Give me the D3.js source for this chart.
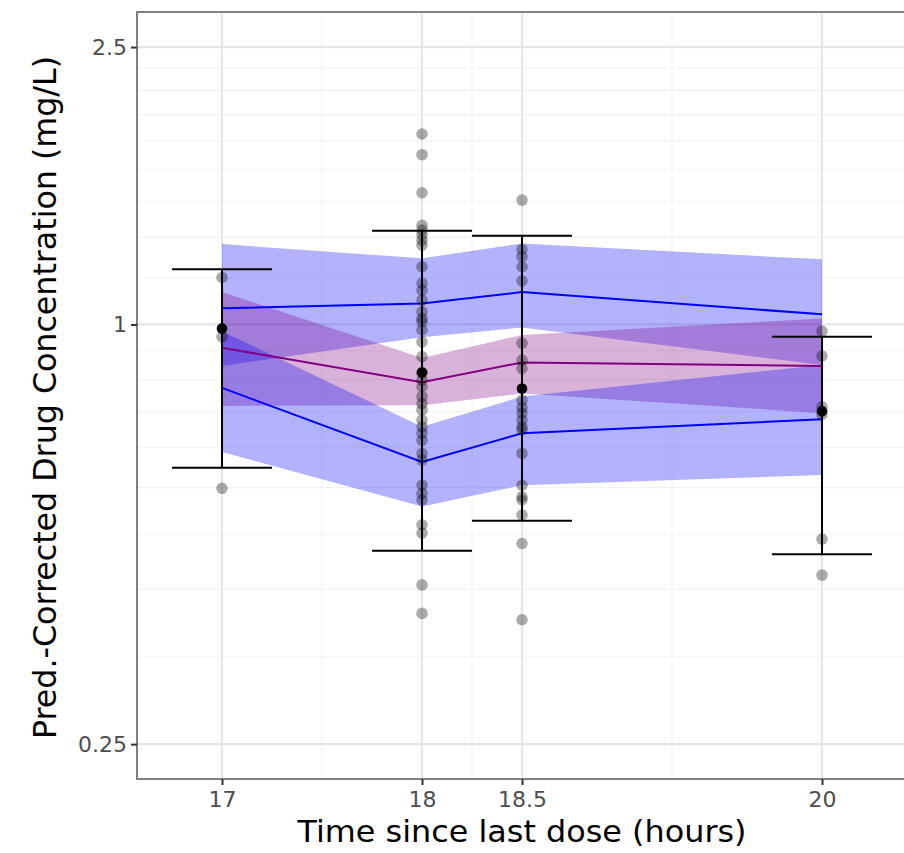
<!DOCTYPE html>
<html>
<head>
<meta charset="utf-8">
<script src="https://cdn.jsdelivr.net/npm/d3@7"></script>
<style>
  html, body { margin: 0; padding: 0; background: #ffffff; }
  svg { display: block; }
  text { font-family: "DejaVu Sans", sans-serif; }
</style>
</head>
<body>
<svg id="chart" width="904" height="853"></svg>
<script>
// ---------------- data ----------------
const timeBins = [17, 18, 18.5, 20];
const xTickValues = [17, 18, 18.5, 20];
const xTickLabels = ["17", "18", "18.5", "20"];
const xMinorBreaks = [17.5, 18.25, 19.25];
const yTickValues = [0.25, 1, 2.5];
const yTickLabels = ["0.25", "1", "2.5"];
const yMinorBreaks = [0.3333, 0.4167, 0.5, 0.5833, 0.6667, 0.75, 0.8333, 0.9167,
                      1.1667, 1.3333, 1.5, 1.6667, 1.8333, 2, 2.1667, 2.3333];

// simulated prediction intervals (confidence bands around 5th, 50th, 95th percentiles)
const p95BandLow  = [0.872, 0.959, 0.990, 0.875];
const p95BandHigh = [1.304, 1.244, 1.307, 1.240];
const p50BandLow  = [0.764, 0.766, 0.796, 0.746];
const p50BandHigh = [1.113, 0.895, 0.966, 1.020];
const p05BandLow  = [0.656, 0.548, 0.588, 0.608];
const p05BandHigh = [0.978, 0.713, 0.788, 0.875];

// simulated percentile lines
const p95Line = [1.055, 1.072, 1.113, 1.034];
const p50Line = [0.926, 0.826, 0.882, 0.872];
const p05Line = [0.811, 0.635, 0.698, 0.731];

// observed percentiles
const obsMedian = [0.987, 0.854, 0.809, 0.751];
const obsP95    = [1.200, 1.363, 1.341, 0.960];
const obsP05    = [0.623, 0.4735, 0.523, 0.468];

// observed pred-corrected concentrations per time bin
const obsAt17  = [1.168, 0.960, 0.582];
const obsAt18  = [1.876, 1.752, 1.545, 1.387, 1.366, 1.344, 1.321, 1.300, 1.210, 1.146,
                  1.120, 1.084, 1.043, 1.020, 1.009, 0.982, 0.944, 0.899, 0.851, 0.832,
                  0.814, 0.788, 0.770, 0.754, 0.729, 0.713, 0.698, 0.682, 0.653, 0.639,
                  0.588, 0.572, 0.560, 0.516, 0.502, 0.423, 0.385];
const obsAt185 = [1.508, 1.281, 1.251, 1.210, 1.155, 0.940, 0.889, 0.865, 0.779, 0.760,
                  0.746, 0.729, 0.713, 0.706, 0.653, 0.588, 0.566, 0.560, 0.533, 0.485, 0.377];
const obsAt20  = [0.978, 0.901, 0.762, 0.743, 0.492, 0.437];

const errorHalfWidth = 0.25; // hours

const xTitle = "Time since last dose (hours)";
const yTitle = "Pred.-Corrected Drug Concentration (mg/L)";

// ---------------- layout ----------------
const panel = { left: 137, top: 12, right: 907, bottom: 779 };
const svg = d3.select("#chart");

const x = d3.scaleLinear().domain([16.575, 20.425]).range([panel.left, panel.right]);
const y = d3.scaleLog().domain([0.2228, 2.807]).range([panel.bottom, panel.top]);

// background
svg.append("rect").attr("x", panel.left).attr("y", panel.top)
  .attr("width", panel.right - panel.left).attr("height", panel.bottom - panel.top)
  .attr("fill", "#ffffff");

const clip = svg.append("clipPath").attr("id", "pclip").append("rect")
  .attr("x", panel.left).attr("y", panel.top)
  .attr("width", panel.right - panel.left).attr("height", panel.bottom - panel.top);

const grid = svg.append("g");
// minor grid
grid.selectAll(".ymin").data(yMinorBreaks).join("line")
  .attr("x1", panel.left).attr("x2", panel.right)
  .attr("y1", d => y(d)).attr("y2", d => y(d))
  .attr("stroke", "#f2f2f2").attr("stroke-width", 1.1);
grid.selectAll(".xmin").data(xMinorBreaks).join("line")
  .attr("y1", panel.top).attr("y2", panel.bottom)
  .attr("x1", d => x(d)).attr("x2", d => x(d))
  .attr("stroke", "#f2f2f2").attr("stroke-width", 1.1);
// major grid
grid.selectAll(".ymaj").data(yTickValues).join("line")
  .attr("x1", panel.left).attr("x2", panel.right)
  .attr("y1", d => y(d)).attr("y2", d => y(d))
  .attr("stroke", "#e6e6e6").attr("stroke-width", 2.2);
grid.selectAll(".xmaj").data(xTickValues).join("line")
  .attr("y1", panel.top).attr("y2", panel.bottom)
  .attr("x1", d => x(d)).attr("x2", d => x(d))
  .attr("stroke", "#e6e6e6").attr("stroke-width", 2.2);

const plot = svg.append("g").attr("clip-path", "url(#pclip)");

// ribbons
function band(lo, hi) {
  return d3.area()
    .x((d, i) => x(timeBins[i]))
    .y0((d, i) => y(lo[i]))
    .y1((d, i) => y(hi[i]))(timeBins);
}
plot.append("path").attr("d", band(p95BandLow, p95BandHigh)).attr("fill", "#0000ff").attr("fill-opacity", 0.3);
plot.append("path").attr("d", band(p50BandLow, p50BandHigh)).attr("fill", "#800080").attr("fill-opacity", 0.3);
plot.append("path").attr("d", band(p05BandLow, p05BandHigh)).attr("fill", "#0000ff").attr("fill-opacity", 0.3);

// lines
function line(vals) {
  return d3.line().x((d, i) => x(timeBins[i])).y((d, i) => y(vals[i]))(timeBins);
}
plot.append("path").attr("d", line(p95Line)).attr("fill", "none").attr("stroke", "#0000ff").attr("stroke-width", 2);
plot.append("path").attr("d", line(p05Line)).attr("fill", "none").attr("stroke", "#0000ff").attr("stroke-width", 2);
plot.append("path").attr("d", line(p50Line)).attr("fill", "none").attr("stroke", "#800080").attr("stroke-width", 2);

// observed points
const obs = [];
[[17, obsAt17], [18, obsAt18], [18.5, obsAt185], [20, obsAt20]].forEach(([t, arr]) => {
  arr.forEach(v => obs.push({ t, v }));
});
plot.selectAll(".obs").data(obs).join("circle")
  .attr("cx", d => x(d.t)).attr("cy", d => y(d.v)).attr("r", 5.8)
  .attr("fill", "#000000").attr("fill-opacity", 0.33);

// error bars
const eb = plot.append("g").attr("stroke", "#000000").attr("stroke-width", 2);
timeBins.forEach((t, i) => {
  eb.append("line").attr("x1", x(t)).attr("x2", x(t)).attr("y1", y(obsP05[i])).attr("y2", y(obsP95[i]));
  eb.append("line").attr("x1", x(t - errorHalfWidth)).attr("x2", x(t + errorHalfWidth))
    .attr("y1", y(obsP95[i])).attr("y2", y(obsP95[i]));
  eb.append("line").attr("x1", x(t - errorHalfWidth)).attr("x2", x(t + errorHalfWidth))
    .attr("y1", y(obsP05[i])).attr("y2", y(obsP05[i]));
});

// observed median dots
plot.selectAll(".med").data(timeBins).join("circle")
  .attr("cx", d => x(d)).attr("cy", (d, i) => y(obsMedian[i])).attr("r", 5.3)
  .attr("fill", "#000000");

// panel border
svg.append("rect").attr("x", panel.left).attr("y", panel.top)
  .attr("width", panel.right - panel.left).attr("height", panel.bottom - panel.top)
  .attr("fill", "none").attr("stroke", "#808080").attr("stroke-width", 2);

// axes
const yAxis = d3.axisLeft(y).tickValues(yTickValues).tickFormat((d, i) => yTickLabels[i])
  .tickSize(6).tickPadding(4);
const yg = svg.append("g").attr("transform", `translate(${panel.left},0)`).call(yAxis);
yg.select(".domain").remove();
yg.selectAll(".tick line").attr("stroke", "#333333").attr("stroke-width", 2);
yg.selectAll(".tick text").attr("fill", "#4d4d4d").attr("font-size", 22)
  .attr("font-family", "DejaVu Sans");

const xAxis = d3.axisBottom(x).tickValues(xTickValues).tickFormat((d, i) => xTickLabels[i])
  .tickSize(6).tickPadding(6);
const xg = svg.append("g").attr("transform", `translate(0,${panel.bottom})`).call(xAxis);
xg.select(".domain").remove();
xg.selectAll(".tick line").attr("stroke", "#333333").attr("stroke-width", 2);
xg.selectAll(".tick text").attr("fill", "#4d4d4d").attr("font-size", 22)
  .attr("font-family", "DejaVu Sans");

// titles
svg.append("text").attr("x", (panel.left + panel.right) / 2).attr("y", 842)
  .attr("text-anchor", "middle").attr("font-size", 30).attr("fill", "#000000")
  .attr("textLength", 449).attr("lengthAdjust", "spacingAndGlyphs")
  .text(xTitle);

svg.append("text")
  .attr("transform", `translate(56,${(panel.top + panel.bottom) / 2 + 2}) rotate(-90)`)
  .attr("text-anchor", "middle").attr("font-size", 32).attr("fill", "#000000")
  .attr("textLength", 683).attr("lengthAdjust", "spacingAndGlyphs")
  .text(yTitle);
</script>
</body>
</html>
